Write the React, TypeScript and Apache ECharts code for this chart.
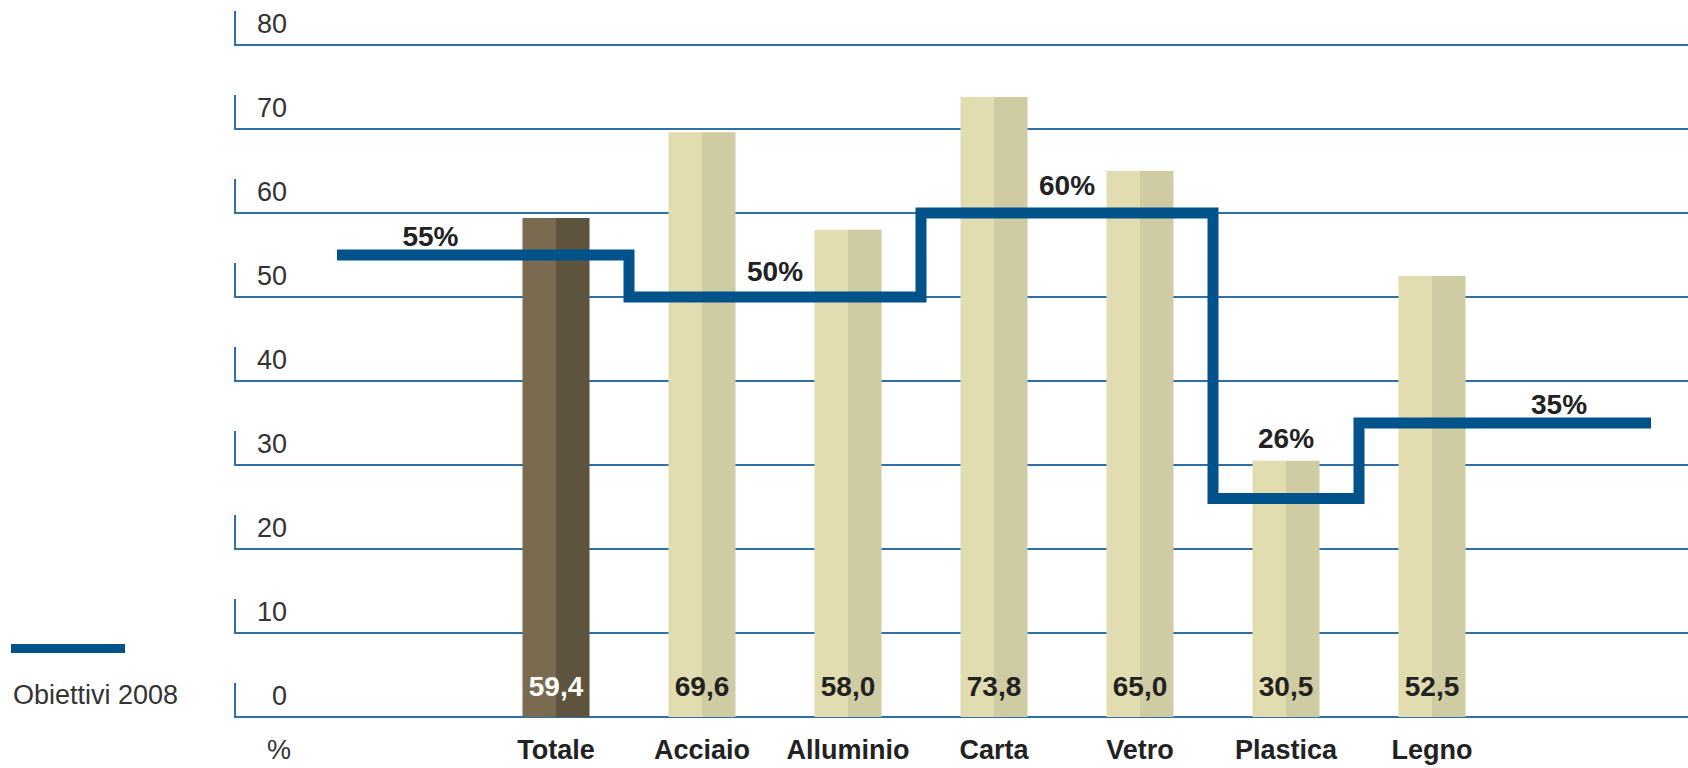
import React, { useEffect, useRef } from "react";
import * as echarts from "echarts";

const categories = ["Totale", "Acciaio", "Alluminio", "Carta", "Vetro", "Plastica", "Legno"];
const values = [59.4, 69.6, 58.0, 73.8, 65.0, 30.5, 52.5];
const targetValues = [55, 50, 60, 26, 35];
const targetStart = [-1.5, 0.5, 2.5, 4.5, 5.5];
const targetEnd = [0.5, 2.5, 4.5, 5.5, 7.5];
const targetLabels = ["55%", "50%", "60%", "26%", "35%"];
const targetLabelX = [-0.86, 1.5, 3.5, 5, 6.87];
const targetLabelRise = [19, 26, 28, 60, 19];
const yTicks = [0, 10, 20, 30, 40, 50, 60, 70, 80];
const legendName = "Obiettivi 2008";
const axisUnit = "%";

const REG = "'Liberation Sans', Arial, sans-serif";
const BOLD = "'Liberation Sans', Arial, sans-serif";
const GRID_COLOR = "#2f70a6";
const LINE_COLOR = "#00528a";
const TEXT = "#222222";

function twoTone(left: string, right: string) {
  return new echarts.graphic.LinearGradient(0, 0, 1, 0, [
    { offset: 0, color: left },
    { offset: 0.5, color: left },
    { offset: 0.5, color: right },
    { offset: 1, color: right },
  ]);
}

export default function App() {
  const ref = useRef<HTMLDivElement>(null);
  useEffect(() => {
    if (!ref.current) return;
    const chart = echarts.init(ref.current, undefined, { renderer: "svg" });

    const cats9 = ["", ...categories, ""];
    const barData: any[] = ["-"];
    values.forEach((v, i) => {
      barData.push({
        value: v,
        itemStyle: { color: i === 0 ? twoTone("#7a6a4f", "#5e533c") : twoTone("#e2ddb1", "#cfcba2") },
        label: { color: i === 0 ? "#ffffff" : TEXT },
      });
    });
    barData.push("-");

    const stepData: number[][] = [];
    targetValues.forEach((v, i) => {
      stepData.push([targetStart[i], v]);
      stepData.push([targetEnd[i], v]);
    });

    const labelData = targetValues.map((v, i) => ({
      value: [targetLabelX[i], v],
      label: { offset: [0, -targetLabelRise[i]] },
    }));

    chart.setOption({
      animation: false,
      backgroundColor: "#ffffff",
      grid: [
        { left: 337, right: 37, top: 45, bottom: 51 },
        { left: 235, right: 0, top: 45, bottom: 51 },
      ],
      legend: [
        {
          data: [{ name: legendName, icon: "rect" }],
          left: 11,
          top: 644,
          padding: 0,
          itemWidth: 114,
          itemHeight: 9,
          selectedMode: false,
          formatter: () => "",
          itemStyle: { color: LINE_COLOR },
        },
        {
          data: [{ name: legendName, icon: "none" }],
          left: 8,
          top: 679,
          padding: 0,
          itemWidth: 0,
          itemHeight: 32,
          selectedMode: false,
          textStyle: { fontFamily: REG, fontSize: 27, color: "#333333", lineHeight: 32 },
        },
      ],
      xAxis: [
        { gridIndex: 0, type: "value", position: "top", min: -1.5, max: 7.5, show: false },
        {
          gridIndex: 0,
          type: "category",
          position: "bottom",
          data: cats9,
          axisLine: { show: false },
          axisTick: { show: false },
          splitLine: { show: false },
          axisLabel: {
            interval: 0,
            margin: 19,
            fontFamily: BOLD,
            fontWeight: "bold",
            fontSize: 27,
            color: TEXT,
          },
        },
        { gridIndex: 1, type: "value", min: 0, max: 1, show: false },
      ],
      yAxis: [
        { gridIndex: 0, type: "value", min: 0, max: 80, show: false, splitLine: { show: false } },
        {
          gridIndex: 1,
          type: "value",
          min: 0,
          max: 80,
          interval: 10,
          axisLine: { show: false },
          axisTick: { show: false },
          splitLine: { show: true, lineStyle: { color: GRID_COLOR, width: 2 } },
          axisLabel: {
            inside: true,
            margin: 52,
            align: "right",
            verticalAlign: "bottom",
            lineHeight: 42,
            fontFamily: REG,
            fontSize: 27,
            color: "#333333",
          },
          name: axisUnit,
          nameLocation: "start",
          nameGap: 33,
          nameTextStyle: {
            fontFamily: REG,
            fontSize: 27,
            color: "#333333",
            align: "left",
            verticalAlign: "middle",
            padding: [0, 0, 0, 32],
          },
        },
      ],
      series: [
        {
          type: "custom",
          xAxisIndex: 2,
          yAxisIndex: 1,
          clip: false,
          silent: true,
          z: 1,
          data: yTicks.map((v) => [0, v]),
          renderItem: (_params: any, api: any) => {
            const p = api.coord([0, api.value(1)]);
            return {
              type: "line",
              shape: { x1: p[0], y1: p[1] + 1, x2: p[0], y2: p[1] - 34 },
              style: { stroke: GRID_COLOR, lineWidth: 2 },
            };
          },
        },
        {
          type: "bar",
          xAxisIndex: 1,
          yAxisIndex: 0,
          barWidth: 67,
          z: 2,
          data: barData,
          label: {
            show: true,
            position: "insideBottom",
            distance: 17,
            fontFamily: BOLD,
            fontWeight: "bold",
            fontSize: 28,
            formatter: (p: any) => Number(p.value).toFixed(1).replace(".", ","),
          },
        },
        {
          name: legendName,
          type: "line",
          xAxisIndex: 0,
          yAxisIndex: 0,
          z: 3,
          symbol: "none",
          data: stepData,
          itemStyle: { color: LINE_COLOR },
          lineStyle: { color: LINE_COLOR, width: 11, join: "miter", cap: "butt" },
        },
        {
          type: "scatter",
          xAxisIndex: 0,
          yAxisIndex: 0,
          z: 4,
          symbolSize: 1,
          itemStyle: { color: "rgba(255,255,255,0)", opacity: 1 },
          silent: true,
          data: labelData,
          label: {
            show: true,
            position: "inside",
            fontFamily: BOLD,
            fontWeight: "bold",
            fontSize: 28,
            color: TEXT,
            opacity: 1,
            textBorderWidth: 0,
            formatter: (p: any) => targetLabels[p.dataIndex],
          },
        },
      ],
    });
    return () => chart.dispose();
  }, []);

  return (
    <div
      ref={ref}
      style={{ position: "fixed", left: 0, top: 0, width: 1688, height: 768, background: "#fff" }}
    />
  );
}
